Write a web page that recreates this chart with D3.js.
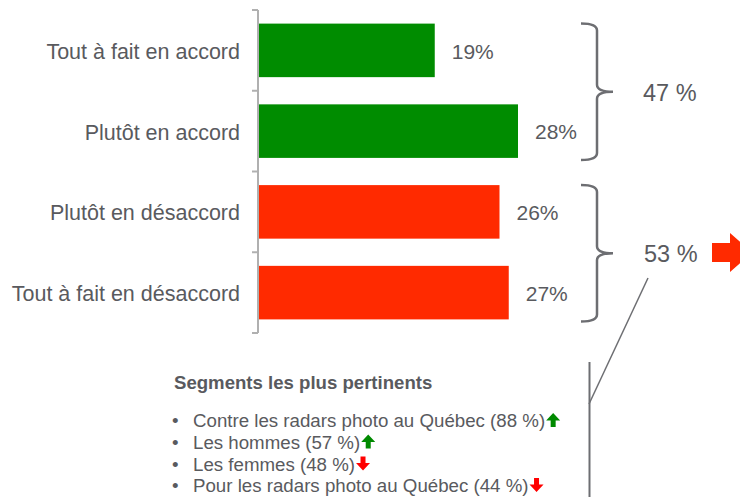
<!DOCTYPE html>
<html>
<head>
<meta charset="utf-8">
<script src="https://cdn.jsdelivr.net/npm/d3@7"></script>
<style>
  html, body { margin: 0; padding: 0; background: #fff; }
  svg { display: block; font-family: "Liberation Sans", Arial, sans-serif; }
</style>
</head>
<body>
<svg id="chart" width="740" height="497"></svg>
<script>
const categories = ["Tout à fait en accord", "Plutôt en accord", "Plutôt en désaccord", "Tout à fait en désaccord"];
const values = [19, 28, 26, 27];
const barColors = ["#008C00", "#008C00", "#FF2A00", "#FF2A00"];
const groupLabels = ["47 %", "53 %"];
const groupMembers = [[0, 1], [2, 3]];
const segmentsTitle = "Segments les plus pertinents";
const segments = [
  "Contre les radars photo au Québec (88 %)",
  "Les hommes (57 %)",
  "Les femmes (48 %)",
  "Pour les radars photo au Québec (44 %)"
];
const segmentDirs = ["up", "up", "down", "down"];

const textColor = "#595a5e";
const svg = d3.select("#chart");

const y = d3.scaleBand().domain(categories).range([10, 333])
  .paddingInner(0.337).paddingOuter(0.1685);
const x = d3.scaleLinear().domain([0, 28]).range([259, 518]);

// axis
const step = y.step();
const axisG = svg.append("g");
axisG.append("line").attr("x1", 258).attr("x2", 258).attr("y1", 10).attr("y2", 333)
  .attr("stroke", "#b0b0b0").attr("stroke-width", 2);
const tickYs = categories.map(c => y(c) - y.paddingInner() * step / 2).concat([333]);
axisG.selectAll("line.tick").data(tickYs).enter().append("line")
  .attr("class", "tick").attr("x1", 252).attr("x2", 258)
  .attr("y1", d => d).attr("y2", d => d)
  .attr("stroke", "#b0b0b0").attr("stroke-width", 2);

// bars
svg.selectAll("rect.bar").data(values).enter().append("rect")
  .attr("class", "bar")
  .attr("x", x(0))
  .attr("y", (d, i) => y(categories[i]))
  .attr("width", d => x(d) - x(0))
  .attr("height", y.bandwidth())
  .attr("fill", (d, i) => barColors[i]);

// category labels
svg.selectAll("text.cat").data(categories).enter().append("text")
  .attr("class", "cat")
  .attr("x", 240)
  .attr("y", d => y(d) + y.bandwidth() / 2 + 1)
  .attr("dy", "0.35em")
  .attr("text-anchor", "end")
  .attr("font-size", 21.5)
  .attr("fill", textColor)
  .text(d => d);

// value labels
svg.selectAll("text.val").data(values).enter().append("text")
  .attr("class", "val")
  .attr("x", d => x(d) + 17)
  .attr("y", (d, i) => y(categories[i]) + y.bandwidth() / 2 + 1)
  .attr("dy", "0.35em")
  .attr("font-size", 21)
  .attr("fill", textColor)
  .text(d => d + "%");

// braces
function bracePath(top, bottom) {
  const x0 = 581, x1 = 597, x2 = 613, r = 7;
  const mid = (top + bottom) / 2;
  return `M${x0},${top} Q${x1},${top} ${x1},${top + r} L${x1},${mid - r} Q${x1},${mid} ${x2},${mid}` +
         ` Q${x1},${mid} ${x1},${mid + r} L${x1},${bottom - r} Q${x1},${bottom} ${x0},${bottom}`;
}
groupMembers.forEach((m, gi) => {
  const top = y(categories[m[0]]);
  const bottom = y(categories[m[m.length - 1]]) + y.bandwidth() + 2;
  svg.append("path").attr("d", bracePath(top, bottom))
    .attr("fill", "none").attr("stroke", "#6d6e72").attr("stroke-width", 2.5);
  svg.append("text")
    .attr("x", 643 + gi * 1)
    .attr("y", (top + bottom) / 2 + 1)
    .attr("dy", "0.35em")
    .attr("font-size", 23.5)
    .attr("fill", textColor)
    .text(groupLabels[gi]);
});

// big red arrow
svg.append("path")
  .attr("d", "M712,243 L730,243 L730,233 L752,252.5 L730,272 L730,262 L712,262 Z")
  .attr("fill", "#FF2A00");

// connector lines
svg.append("line").attr("x1", 648).attr("y1", 278).attr("x2", 589).attr("y2", 404)
  .attr("stroke", "#6d6e72").attr("stroke-width", 1.5);
svg.append("line").attr("x1", 589.5).attr("y1", 362).attr("x2", 589.5).attr("y2", 497)
  .attr("stroke", "#6d6e72").attr("stroke-width", 2);

// segments text
svg.append("text").attr("x", 174).attr("y", 389)
  .attr("font-size", 18.6).attr("font-weight", "bold").attr("fill", textColor)
  .text(segmentsTitle);

const lineY = [427, 448.5, 470.5, 492];
segments.forEach((s, i) => {
  svg.append("text").attr("x", 172).attr("y", lineY[i])
    .attr("font-size", 18.7).attr("fill", textColor).text("•");
  const t = svg.append("text").attr("x", 193).attr("y", lineY[i])
    .attr("font-size", 18.7).attr("fill", textColor).text(s);
  const w = t.node().getComputedTextLength();
  const ax = 193 + w + 1.5, base = lineY[i];
  let d;
  if (segmentDirs[i] === "up") {
    const top = base - 14;
    d = `M${ax + 6.5},${top} L${ax + 13.5},${top + 7.5} L${ax + 9},${top + 7.5} L${ax + 9},${base} L${ax + 4},${base} L${ax + 4},${top + 7.5} L${ax - 0.5},${top + 7.5} Z`;
  } else {
    const top = base - 14, bot = base;
    d = `M${ax + 4},${top} L${ax + 9},${top} L${ax + 9},${bot - 7.5} L${ax + 13.5},${bot - 7.5} L${ax + 6.5},${bot} L${ax - 0.5},${bot - 7.5} L${ax + 4},${bot - 7.5} Z`;
  }
  svg.append("path").attr("d", d)
    .attr("fill", segmentDirs[i] === "up" ? "#008A00" : "#FF0000");
});
</script>
</body>
</html>
